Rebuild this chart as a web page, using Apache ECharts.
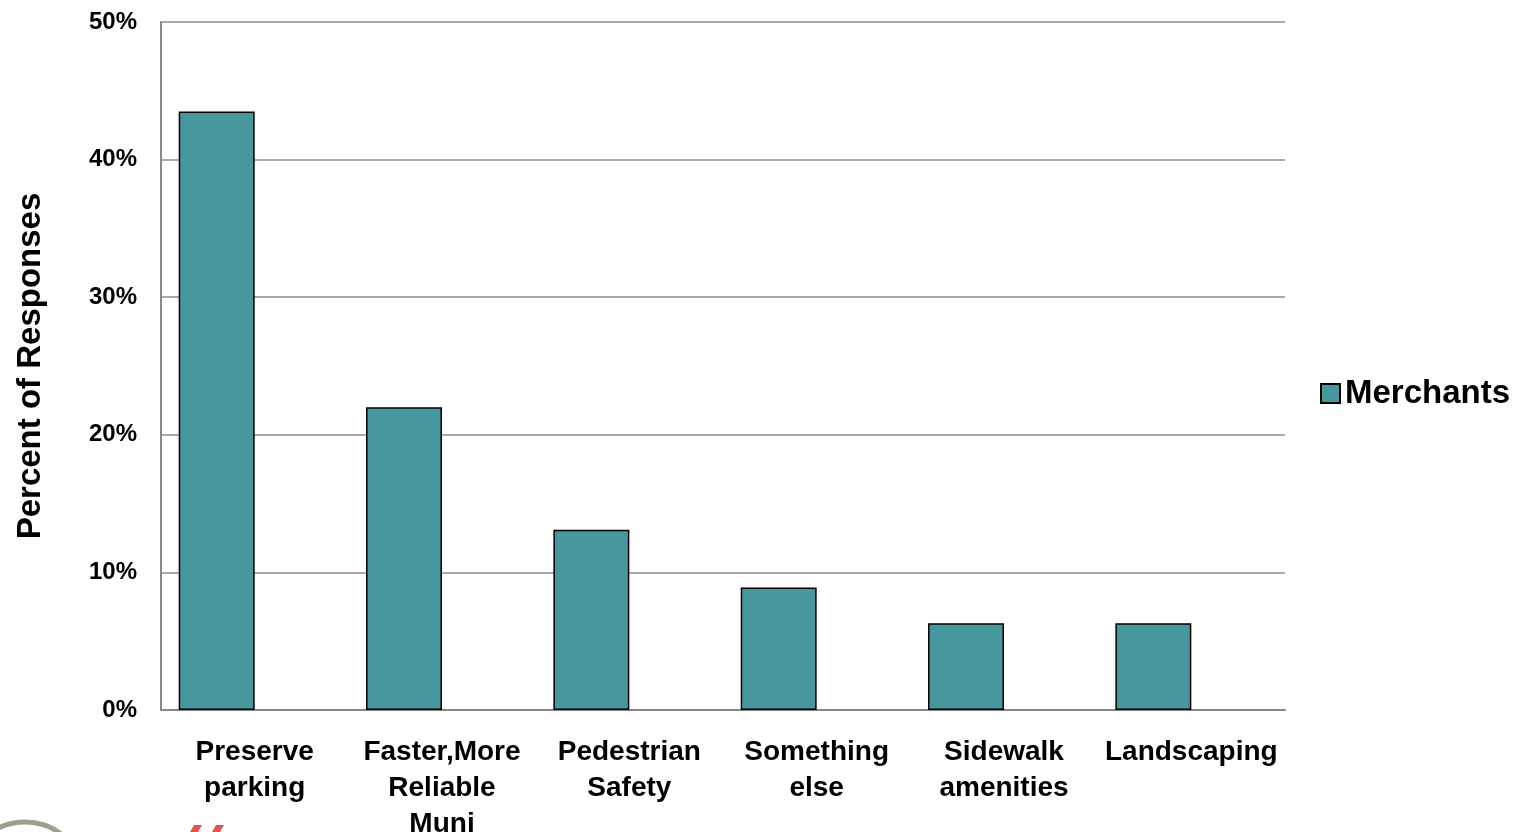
<!DOCTYPE html>
<html>
<head>
<meta charset="utf-8">
<script src="https://cdn.jsdelivr.net/npm/echarts@6/dist/echarts.min.js"></script>
<style>
  html, body { margin: 0; padding: 0; background: #fff; }
  #chart { width: 1524px; height: 832px; }
</style>
</head>
<body>
<div id="chart"></div>
<script>
// Survey: top priorities named by merchants
const categories = ['Preserve\nparking', 'Faster,More\nReliable\nMuni', 'Pedestrian\nSafety', 'Something\nelse', 'Sidewalk\namenities', 'Landscaping'];
const merchants = [43.5, 22.0, 13.1, 8.9, 6.3, 6.3];
// companion column slot (no responses shown), keeps the clustered layout
const companion = [null, null, null, null, null, null];
const yTicks = [0, 10, 20, 30, 40, 50];

const FONT = '"Liberation Sans", Arial, sans-serif';

const chart = echarts.init(document.getElementById('chart'), null, { renderer: 'canvas' });

chart.setOption({
  animation: false,
  backgroundColor: '#ffffff',
  grid: { left: 161, right: 239, top: 22, bottom: 122, containLabel: false, outerBoundsMode: 'none' },
  legend: {
    data: ['Merchants'],
    left: 1315,
    top: 372,
    itemWidth: 19,
    itemHeight: 19,
    itemGap: 10,
    icon: 'rect',
    textStyle: { fontFamily: FONT, fontSize: 33, fontWeight: 'bold', color: '#000' }
  },
  xAxis: {
    type: 'category',
    data: categories,
    axisLine: { show: true, lineStyle: { color: '#888', width: 2 } },
    axisTick: { show: false },
    axisLabel: {
      interval: 0,
      margin: 24,
      fontFamily: FONT,
      fontSize: 28,
      fontWeight: 'bold',
      lineHeight: 36,
      color: '#000'
    }
  },
  yAxis: {
    type: 'value',
    min: yTicks[0],
    max: yTicks[yTicks.length - 1],
    interval: 10,
    name: 'Percent of Responses',
    nameLocation: 'middle',
    nameGap: 114,
    nameTextStyle: { fontFamily: FONT, fontSize: 33, fontWeight: 'bold', color: '#000' },
    axisLine: { show: true, lineStyle: { color: '#888', width: 2 } },
    axisTick: { show: false },
    splitLine: { show: true, lineStyle: { color: '#8c8c8c', width: 1.5 } },
    axisLabel: {
      margin: 24,
      fontFamily: FONT,
      fontSize: 24,
      fontWeight: 'bold',
      color: '#000',
      formatter: v => v + '%'
    }
  },
  series: [
    {
      name: 'Merchants',
      type: 'bar',
      data: merchants,
      barGap: '0%',
      barCategoryGap: '18.9%',
      itemStyle: { color: '#46979e', borderColor: '#000', borderWidth: 1.5 }
    },
    {
      name: 'Other',
      type: 'bar',
      data: companion,
      itemStyle: { color: '#c0504d', borderColor: '#000', borderWidth: 1.5 }
    }
  ],
  graphic: [
    {
      type: 'circle',
      shape: { cx: 25, cy: 882, r: 60 },
      style: { fill: 'none', stroke: '#a09e8c', lineWidth: 5 },
      silent: true
    },
    {
      type: 'polygon',
      shape: { points: [[190, 832], [194, 825], [202, 825], [198, 832]] },
      style: { fill: '#e8524f' },
      silent: true
    },
    {
      type: 'polygon',
      shape: { points: [[212, 832], [216, 825], [224, 825], [220, 832]] },
      style: { fill: '#e8524f' },
      silent: true
    }
  ]
});
</script>
</body>
</html>
